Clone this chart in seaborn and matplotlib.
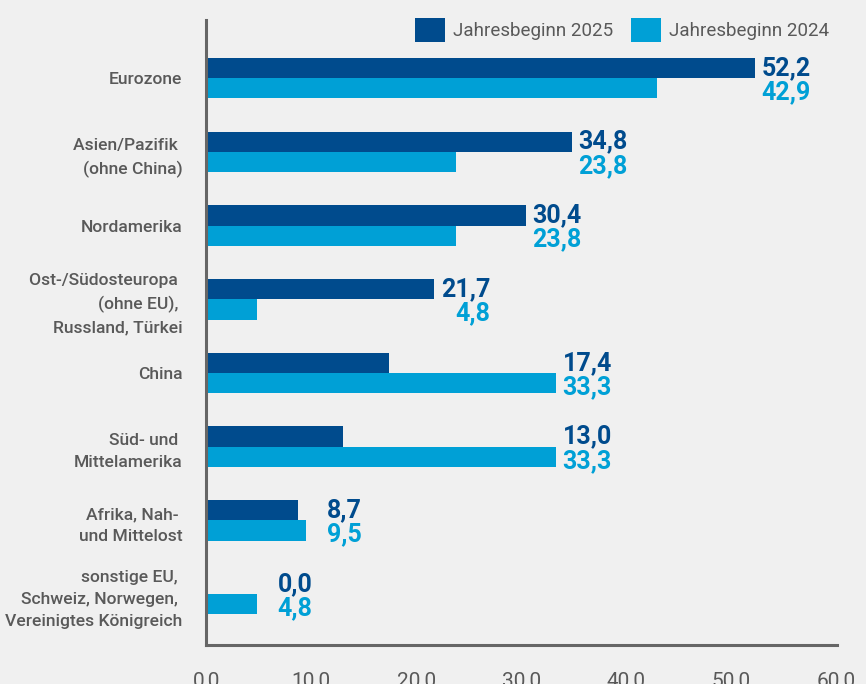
import pandas as pd
import numpy as np
import matplotlib.pyplot as plt
import seaborn as sns
from matplotlib import font_manager
from matplotlib.ticker import FuncFormatter

# Daten (Anteile in %)
regionen = ["Eurozone", "Asien/Pazifik \n(ohne China)", "Nordamerika",
            "Ost-/Südosteuropa \n(ohne EU), \nRussland, Türkei", "China",
            "Süd- und \nMittelamerika", "Afrika, Nah- \nund Mittelost",
            "sonstige EU, \nSchweiz, Norwegen, \nVereinigtes Königreich"]
werte_2025 = [52.2, 34.8, 30.4, 21.7, 17.4, 13.0, 8.7, 0.0]
werte_2024 = [42.9, 23.8, 23.8, 4.8, 33.3, 33.3, 9.5, 4.8]
serien = ["Jahresbeginn 2025", "Jahresbeginn 2024"]
x_ticks = [0, 10, 20, 30, 40, 50, 60]

dunkel = "#004b8d"
hell = "#00a0d6"
grau = "#595959"
hintergrund = "#f0f0f0"

# Schrift: schmal wenn vorhanden
namen = {f.name for f in font_manager.fontManager.ttflist}
schrift = "Liberation Sans Narrow" if "Liberation Sans Narrow" in namen else "Roboto"

sns.set_style("white")
plt.rcParams["font.family"] = [schrift, "DejaVu Sans"]

df = pd.DataFrame({
    "Region": regionen * 2,
    "Wert": werte_2025 + werte_2024,
    "Serie": [serien[0]] * len(regionen) + [serien[1]] * len(regionen),
})

fig = plt.figure(figsize=(8.66, 6.84), dpi=100, facecolor=hintergrund)
ax = fig.add_axes([0.238, 0.057, 0.728, 0.914])
ax.set_facecolor(hintergrund)

sns.barplot(data=df, y="Region", x="Wert", hue="Serie", hue_order=serien,
            palette=[dunkel, hell], orient="h", width=0.55, gap=0,
            saturation=1, linewidth=0, ax=ax, legend=True)

ax.set_xlim(0, 60)
ax.set_ylim(7.69, -0.79)
ax.set_xticks(x_ticks)
ax.xaxis.set_major_formatter(FuncFormatter(lambda v, p: f"{v:.1f}".replace(".", ",")))
ax.tick_params(axis="x", length=0, pad=19, labelsize=15, labelcolor=grau)
ax.set_xticks([60], minor=True)
ax.tick_params(axis="x", which="minor", length=20, width=2.2, direction="inout", color="#666666")
ax.tick_params(axis="y", length=0, pad=17, labelsize=12.6, labelcolor=grau)
for lbl in ax.get_yticklabels():
    lbl.set_fontweight("medium")
    lbl.set_linespacing(1.6)
ax.set_xlabel("")
ax.set_ylabel("")

for s in ["top", "right"]:
    ax.spines[s].set_visible(False)
for s in ["left", "bottom"]:
    ax.spines[s].set_color("#666666")
    ax.spines[s].set_linewidth(2.2)

# Wertelabels, rechtsbündig hinter dem längeren Balken
for i, (b25, b24) in enumerate(zip(ax.containers[0], ax.containers[1])):
    xmax = max(werte_2025[i], werte_2024[i])
    for bar, wert, farbe, dy in [(b25, werte_2025[i], dunkel, 0), (b24, werte_2024[i], hell, -4)]:
        yc = bar.get_y() + bar.get_height() / 2
        ax.annotate(f"{wert:.1f}".replace(".", ","), (xmax, yc), xytext=(56, dy),
                    textcoords="offset pixels", ha="right", va="center",
                    fontsize=18, fontweight="bold", color=farbe)

leg = ax.legend(loc="upper right", bbox_to_anchor=(1.0, 1.015), ncol=2, frameon=False,
                fontsize=13.5, handlelength=1.6, handleheight=1.6, handletextpad=0.4,
                columnspacing=1.0, borderaxespad=0)
for t in leg.get_texts():
    t.set_color(grau)

fig.savefig("out.png", dpi=100, facecolor=hintergrund)
